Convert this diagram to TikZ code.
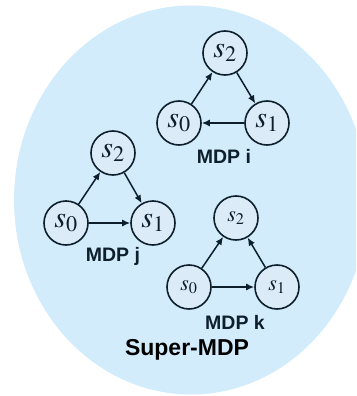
\documentclass[tikz,border=0pt]{standalone}
\usepackage{mathptmx}
\usepackage{fontspec}
\setsansfont{Liberation Sans}
\usetikzlibrary{arrows.meta}
\definecolor{bgblue}{HTML}{D3ECFC}
\definecolor{nodefill}{HTML}{DCEBF8}
\definecolor{ink}{HTML}{0E1F2C}
\tikzset{
  state/.style={circle, draw=ink, fill=nodefill, line width=1.6pt, minimum size=44pt, inner sep=0pt, text=ink, font=\fontsize{30}{32}\selectfont},
  smallstate/.style={state, font=\fontsize{22}{24}\selectfont},
  tr/.style={-{Latex[length=8pt,width=7pt]}, line width=1.5pt, draw=ink},
  mdplabel/.style={font=\sffamily\bfseries\fontsize{19.5}{22}\selectfont, text=ink, inner sep=0pt},
  superlabel/.style={font=\sffamily\bfseries\fontsize{23}{26}\selectfont, text=black, inner sep=0pt}
}
\begin{document}
\begin{tikzpicture}[x=1pt,y=-1pt]
\useasboundingbox (0,0) rectangle (356,396);
\begin{scope}
\clip (0,0) rectangle (356,396);
\fill[bgblue] (191,200) ellipse [x radius=177, y radius=194.5];
\end{scope}
% MDP i
\node[state] (i2) at (225,53) {$s_2$};
\node[state] (i0) at (179,123) {$s_0$};
\node[state] (i1) at (267,123) {$s_1$};
\node[mdplabel] (li) at (224,156) {MDP i};
\draw[tr] (i0) -- (i2);
\draw[tr] (i2) -- (i1);
\draw[tr] (i1) -- (i0);
% MDP j
\node[state] (j2) at (113,153) {$s_2$};
\node[state] (j0) at (66,223) {$s_0$};
\node[state] (j1) at (153,223) {$s_1$};
\node[mdplabel] (lj) at (113,256) {MDP j};
\draw[tr] (j0) -- (j2);
\draw[tr] (j2) -- (j1);
\draw[tr] (j0) -- (j1);
% MDP k
\node[smallstate] (k2) at (236,218) {$s_2$};
\node[smallstate] (k0) at (189,287) {$s_0$};
\node[smallstate] (k1) at (277,287) {$s_1$};
\node[mdplabel] (lk) at (235,322) {MDP k};
\draw[tr] (k0) -- (k2);
\draw[tr] (k1) -- (k2);
\draw[tr] (k0) -- (k1);
% Super
\node[superlabel] (sup) at (187,350) {Super-MDP};
\end{tikzpicture}
\end{document}
